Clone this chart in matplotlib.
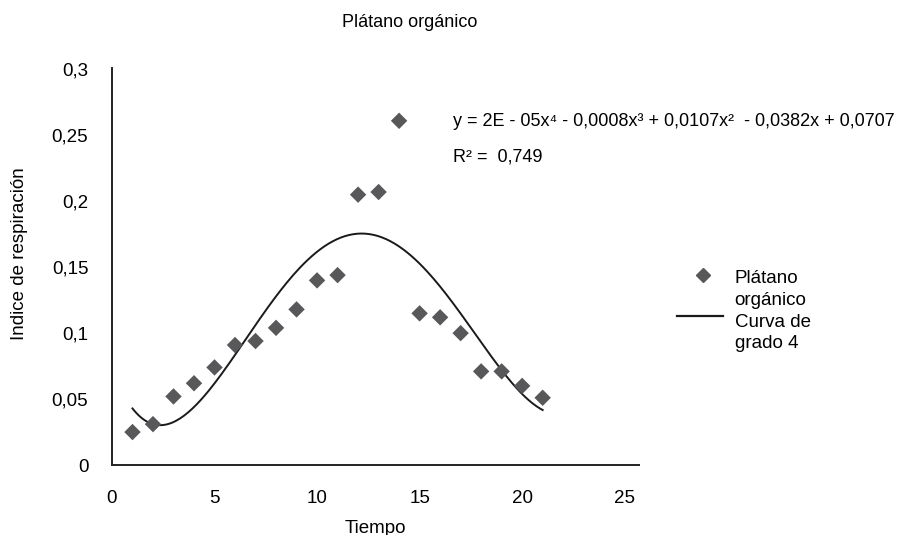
import numpy as np
import matplotlib.pyplot as plt
from matplotlib.lines import Line2D

plt.rcParams['font.family'] = ['Liberation Sans', 'DejaVu Sans']

# Respiration index of organic plantain over time
tiempo = [1, 2, 3, 4, 5, 6, 7, 8, 9, 10, 11, 12, 13, 14, 15, 16, 17, 18, 19, 20, 21]
indice = [0.025, 0.031, 0.052, 0.062, 0.074, 0.091, 0.094, 0.104, 0.118, 0.140,
          0.144, 0.205, 0.207, 0.261, 0.115, 0.112, 0.100, 0.071, 0.071, 0.060, 0.051]

x_ticks = [0, 5, 10, 15, 20, 25]
y_ticks = [0, 0.05, 0.1, 0.15, 0.2, 0.25, 0.3]
y_labels = ['0', '0,05', '0,1', '0,15', '0,2', '0,25', '0,3']

# 4th degree trend line fitted to the measurements
coef = np.polyfit(tiempo, indice, 4)
xs = np.linspace(min(tiempo), max(tiempo), 200)
ys = np.polyval(coef, xs)

point_color = '#58585a'
line_color = '#1a1a1a'

fig = plt.figure(figsize=(9.17, 5.35), dpi=100)
ax = fig.add_axes([0.1221, 0.1308, 0.5748, 0.742])

ax.scatter(tiempo, indice, marker='D', s=70, color=point_color, edgecolors='none', zorder=3)
ax.plot(xs, ys, color=line_color, lw=1.4)

ax.set_xlim(0, 25.7)
ax.set_ylim(0, 0.301)
ax.set_xticks(x_ticks)
ax.set_xticklabels([str(v) for v in x_ticks])
ax.set_yticks(y_ticks)
ax.set_yticklabels(y_labels)
ax.tick_params(length=0, labelsize=13.5)
ax.tick_params(axis='x', pad=18)
ax.tick_params(axis='y', pad=17)

for side in ['top', 'right']:
    ax.spines[side].set_visible(False)
for side in ['left', 'bottom']:
    ax.spines[side].set_linewidth(1.4)
    ax.spines[side].set_color('#222222')

ax.set_xlabel('Tiempo', fontsize=13.5, labelpad=9)
fig.text(0.021, 0.525, 'Indice de respiración', fontsize=13.5, rotation=90,
         ha='center', va='center')
fig.text(0.447, 0.958, 'Plátano orgánico', fontsize=13, ha='center', va='center')

fig.text(0.494, 0.773,
         'y = 2E - 05x⁴ - 0,0008x³ + 0,0107x²  - 0,0382x + 0,0707',
         fontsize=13, va='center')
fig.text(0.494, 0.706, 'R² =  0,749', fontsize=13, va='center')

# legend, handle aligned with the first line of each wrapped label
fig.add_artist(Line2D([0.7666], [0.486], marker='D', markersize=7.5, color=point_color,
                      linestyle='none', transform=fig.transFigure))
fig.add_artist(Line2D([0.738, 0.788], [0.409, 0.409], color=line_color, lw=1.6,
                      transform=fig.transFigure))
fig.text(0.801, 0.496, 'Plátano\norgánico', fontsize=13.5, ha='left', va='top',
         linespacing=1.45, transform=fig.transFigure)
fig.text(0.801, 0.413, 'Curva de\ngrado 4', fontsize=13.5, ha='left', va='top',
         linespacing=1.3, transform=fig.transFigure)

fig.savefig('out.png', dpi=100)
